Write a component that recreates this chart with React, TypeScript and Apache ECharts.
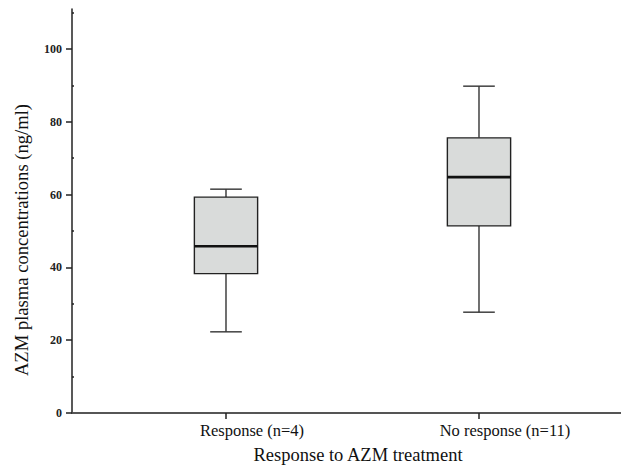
import React, { useEffect, useRef } from "react";
import * as echarts from "echarts";

// ---- data ----
const categories = ["Response (n=4)", "No response (n=11)"];
// [min, Q1, median, Q3, max]
const boxStats = [
  [22.3, 38.3, 45.8, 59.3, 61.5],
  [27.7, 51.4, 64.8, 75.6, 89.8],
];
const yMajorTicks = [0, 20, 40, 60, 80, 100];
const yMinorTicks = [10, 30, 50, 70, 90, 110];
const xTitle = "Response to AZM treatment";
const yTitle = "AZM plasma concentrations (ng/ml)";

const SERIF = '"Liberation Serif", "Times New Roman", Times, serif';

export default function App() {
  const ref = useRef<HTMLDivElement>(null);

  useEffect(() => {
    if (!ref.current) return;
    const chart = echarts.init(ref.current, undefined, { renderer: "svg" });
    const positions = categories.map((_, i) => i + 1);
    const data = boxStats.map((s, i) => [positions[i], ...s]);

    chart.setOption({
      animation: false,
      backgroundColor: "#ffffff",
      grid: { left: 72, right: 0, top: 9, bottom: 55, containLabel: false },
      graphic: [
        {
          type: "text",
          x: 358,
          y: 455,
          style: {
            text: xTitle,
            fontFamily: SERIF,
            fontSize: 18.5,
            fill: "#111",
            align: "center",
            verticalAlign: "middle",
          },
        },
        {
          type: "text",
          x: 21,
          y: 240,
          rotation: Math.PI / 2,
          style: {
            text: yTitle,
            fontFamily: SERIF,
            fontSize: 18.6,
            fill: "#111",
            align: "center",
            verticalAlign: "middle",
          },
        },
      ],
      xAxis: [
        {
          type: "value",
          min: 0.3913,
          max: 2.5613,
          splitLine: { show: false },
          axisLine: { show: true, lineStyle: { color: "#222", width: 1.5 } },
          axisTick: {
            show: true,
            customValues: positions,
            length: 6,
            lineStyle: { color: "#222", width: 1.5 },
          },
          axisLabel: {
            show: true,
            customValues: positions,
            formatter: (v: number) => categories[Math.round(v) - 1] ?? "",
            fontFamily: SERIF,
            fontSize: 16.5,
            color: "#111",
            margin: 9,
            padding: [0, 0, 0, 52],
          },
        },
        {
          type: "value",
          position: "top",
          min: 0.3913,
          max: 2.5613,
          splitLine: { show: false },
          axisLine: { show: true, lineStyle: { color: "#555", width: 1.5 } },
          axisTick: { show: false },
          axisLabel: { show: false },
        },
      ],
      yAxis: [
        {
          type: "value",
          min: 0,
          max: 111,
          position: "left",
          splitLine: { show: false },
          axisLine: { show: true, lineStyle: { color: "#222", width: 1.5 } },
          axisTick: {
            show: true,
            customValues: yMajorTicks,
            length: 6,
            lineStyle: { color: "#222", width: 1.5 },
          },
          axisLabel: {
            show: true,
            customValues: yMajorTicks,
            fontFamily: SERIF,
            fontWeight: "bold",
            fontSize: 12,
            color: "#222",
            margin: 10,
          },
        },
        {
          type: "value",
          min: 0,
          max: 111,
          position: "left",
          offset: 0,
          splitLine: { show: false },
          axisLine: { show: false },
          axisTick: {
            show: true,
            inside: true,
            customValues: yMinorTicks,
            length: 2,
            lineStyle: { color: "#222", width: 1.5 },
          },
          axisLabel: { show: false },
        },
      ],
      series: [
        {
          type: "custom",
          xAxisIndex: 0,
          yAxisIndex: 0,
          encode: { x: 0, y: [1, 2, 3, 4, 5] },
          data,
          renderItem: (params: any, api: any) => {
            const x = api.value(0);
            const mn = api.value(1);
            const q1 = api.value(2);
            const med = api.value(3);
            const q3 = api.value(4);
            const mx = api.value(5);
            const unit = api.size([1, 0])[0];
            const halfBox = unit * 0.125;
            const halfCap = unit * 0.0625;
            const pMin = api.coord([x, mn]);
            const pQ1 = api.coord([x, q1]);
            const pMed = api.coord([x, med]);
            const pQ3 = api.coord([x, q3]);
            const pMax = api.coord([x, mx]);
            const cx = pMin[0];
            const whisker = { stroke: "#333", lineWidth: 1.4 };
            return {
              type: "group",
              children: [
                {
                  type: "line",
                  shape: { x1: cx, y1: pMin[1], x2: cx, y2: pQ1[1] },
                  style: whisker,
                },
                {
                  type: "line",
                  shape: { x1: cx, y1: pQ3[1], x2: cx, y2: pMax[1] },
                  style: whisker,
                },
                {
                  type: "line",
                  shape: { x1: cx - halfCap, y1: pMin[1], x2: cx + halfCap, y2: pMin[1] },
                  style: whisker,
                },
                {
                  type: "line",
                  shape: { x1: cx - halfCap, y1: pMax[1], x2: cx + halfCap, y2: pMax[1] },
                  style: whisker,
                },
                {
                  type: "rect",
                  shape: {
                    x: cx - halfBox,
                    y: pQ3[1],
                    width: halfBox * 2,
                    height: pQ1[1] - pQ3[1],
                  },
                  style: { fill: "#d9dbda", stroke: "#222", lineWidth: 1.4 },
                },
                {
                  type: "line",
                  shape: { x1: cx - halfBox, y1: pMed[1], x2: cx + halfBox, y2: pMed[1] },
                  style: { stroke: "#111", lineWidth: 2.6 },
                },
              ],
            };
          },
        },
      ],
    });

    return () => chart.dispose();
  }, []);

  return (
    <div
      ref={ref}
      style={{ position: "fixed", left: 0, top: 0, width: 621, height: 468, background: "#fff" }}
    />
  );
}
